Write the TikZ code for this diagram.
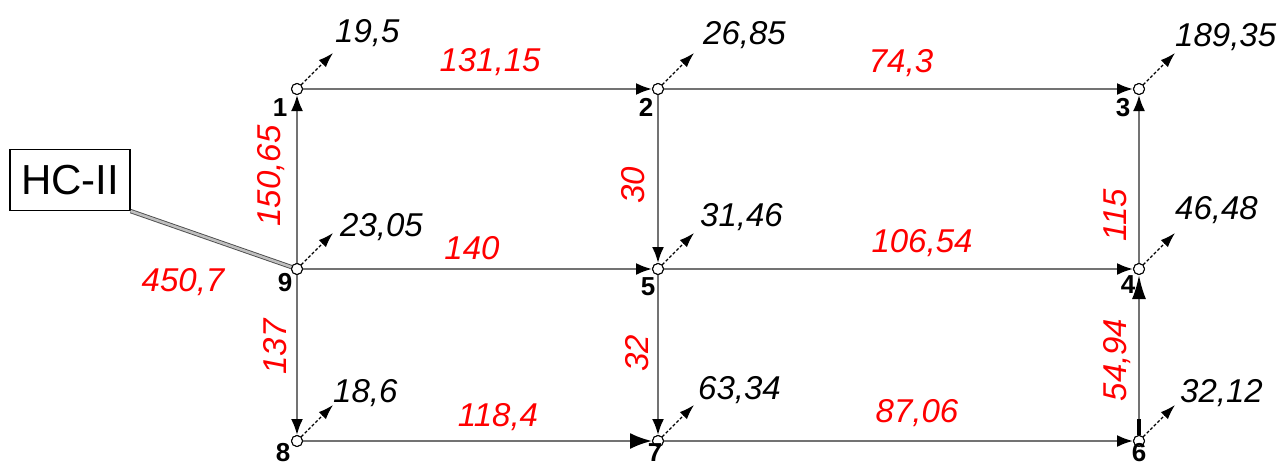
\documentclass[tikz,border=0pt]{standalone}
\usepackage{fontspec}
\setmainfont{Liberation Sans}
\usetikzlibrary{arrows.meta,calc}
\begin{document}
\begin{tikzpicture}[x=1pt,y=-1pt,
 pnode/.style={circle, draw=black, fill=white, line width=1pt, minimum size=11pt, inner sep=0pt},
 pipe/.style={draw=black!55, line width=2.2pt, -{Latex[length=16pt,width=12pt,color=black]}},
 bigpipe/.style={draw=black!55, line width=2.2pt, -{Latex[length=22pt,width=16pt,color=black]}},
 pipesix/.style={draw=black!55, line width=2.2pt, {Rectangle[length=16pt,width=4pt,color=black]}-{Latex[length=24pt,width=14pt,color=black]}},
 outarrow/.style={densely dashed, line width=1.2pt, -{Latex[length=15pt,width=10pt]}},
 qlbl/.style={font=\fontsize{33}{38}\selectfont\itshape, inner sep=0pt, anchor=west},
 flbl/.style={font=\fontsize{33}{38}\selectfont\itshape, text=red, inner sep=0pt},
 num/.style={font=\fontsize{26}{30}\selectfont\bfseries, inner sep=0pt},
 conn/.style={draw=black!70, double=black!25, double distance=2.5pt, line width=0.9pt}
]
\useasboundingbox (0,0) rectangle (1282,466);
% nodes
\node[pnode] (n1) at (297,89) {};
\node[pnode] (n2) at (658,89) {};
\node[pnode] (n3) at (1139,89) {};
\node[pnode] (n9) at (297,269) {};
\node[pnode] (n5) at (658,269) {};
\node[pnode] (n4) at (1139,269) {};
\node[pnode] (n8) at (297,441) {};
\node[pnode] (n7) at (658,441) {};
\node[pnode] (n6) at (1139,441) {};
% box
\node[draw, line width=1.2pt, fill=white, minimum width=120pt, minimum height=61pt, inner sep=0pt,
      font=\fontsize{42}{46}\selectfont] (hc) at (70,180) {HC-II};
\draw[conn] (hc.south east) -- (n9);
% pipes
\draw[pipe] (n9) -- (n1);
\draw[pipe] (n1) -- (n2);
\draw[pipe] (n2) -- (n3);
\draw[pipe] (n2) -- (n5);
\draw[pipe] (n9) -- (n5);
\draw[pipe] (n5) -- (n4);
\draw[pipe] (n4) -- (n3);
\draw[pipe] (n9) -- (n8);
\draw[bigpipe] (n8) -- (n7);
\draw[pipe] (n5) -- (n7);
\draw[pipe] (n7) -- (n6);
\draw[pipesix] (n6) -- (n4);
% redraw nodes on top
\foreach \n in {n1,n2,n3,n4,n5,n6,n7,n8,n9}
  \draw[line width=1pt, fill=white] (\n.center) circle (5.5pt);
% outflow arrows
\foreach \n in {1,...,9} {
  \coordinate (e\n) at ($(n\n.center)+(36,-36)$);
  \draw[outarrow] (n\n) -- (e\n);
}
% consumption labels
\node[qlbl] (q1) at (335,33) {19,5};
\node[qlbl] (q2) at (703,35) {26,85};
\node[qlbl] (q3) at (1175,37) {189,35};
\node[qlbl] (q9) at (340,227) {23,05};
\node[qlbl] (q5) at (700,217) {31,46};
\node[qlbl] (q4) at (1175,210) {46,48};
\node[qlbl] (q8) at (333,393) {18,6};
\node[qlbl] (q7) at (698,390) {63,34};
\node[qlbl] (q6) at (1180,393) {32,12};
% flow labels
\node[flbl] (f12) at (490,62) {131,15};
\node[flbl] (f23) at (901,63) {74,3};
\node[flbl] (f95) at (472,248) {140};
\node[flbl] (f54) at (922,243) {106,54};
\node[flbl] (f87) at (498,417) {118,4};
\node[flbl] (f76) at (917,413) {87,06};
\node[flbl] (fhc) at (183,282) {450,7};
\node[flbl, rotate=90] (f91) at (271,176) {150,65};
\node[flbl, rotate=90] (f25) at (633,185) {30};
\node[flbl, rotate=90] (f57) at (637,353) {32};
\node[flbl, rotate=90] (f98) at (275,347) {137};
\node[flbl, rotate=90] (f43) at (1115,215) {115};
\node[flbl, rotate=90] (f64) at (1117,360) {54,94};
% node numbers
\node[num] (l1) at (280,108) {1};
\node[num] (l2) at (646,107) {2};
\node[num] (l3) at (1123,108) {3};
\node[num] (l9) at (285,283) {9};
\node[num] (l5) at (648,287) {5};
\node[num] (l4) at (1128,285) {4};
\node[num] (l8) at (283,453) {8};
\node[num] (l7) at (655,453) {7};
\node[num] (l6) at (1139,453) {6};
\end{tikzpicture}
\end{document}
